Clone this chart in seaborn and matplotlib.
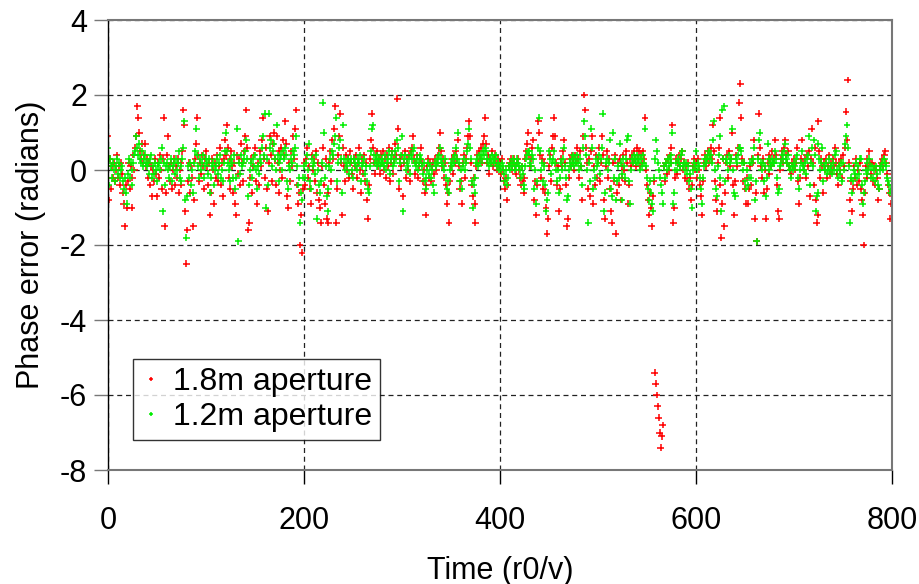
import numpy as np
import pandas as pd
import matplotlib
matplotlib.use("Agg")
import matplotlib.pyplot as plt
import seaborn as sns

# phase error per time step (r0/v)
phase_18m = [
    0.9, -0.8, 0.3, -0.5, 0.1, -0.2, 0.2, -0.3, 0.0, 0.4, -0.2, 0.1, -0.4, 0.2, -0.1, -0.6, -0.9, -1.5, -0.4, -1.0,
    -0.3, 0.2, -0.5, 0.1, -1.0, -0.2, 0.4, 0.0, 0.6, 0.9, 1.7, 1.4, 1.0, 0.5, 0.3, 0.7, 0.2, 0.4, 0.7, 0.1,
    0.3, -0.2, 0.2, -0.4, 0.1, -0.7, 0.0, -0.3, 0.3, -0.1, -0.7, 0.2, -0.2, 0.4, 0.0, -0.5, 0.3, 1.4, -1.5, -0.6,
    0.4, 0.9, 0.1, -0.3, 0.2, -0.5, 0.0, 0.3, -0.4, 0.1, -0.2, 0.3, -0.6, 0.0, 0.2, -0.4, 0.5, 1.6, 1.2, -1.1,
    -2.5, -1.6, -0.3, 0.2, -0.6, 0.1, -0.2, -1.5, -0.8, 0.3, 0.7, 1.4, 0.4, -0.3, 0.2, -0.1, 0.4, 0.1, -0.5, 0.3,
    0.5, 0.1, -0.4, 0.2, -1.2, -0.6, 0.3, 0.0, -0.9, 0.2, -0.2, 0.4, -0.3, 0.1, 0.6, -0.4, 0.2, -0.7, 0.3, 0.8,
    0.4, 1.2, 0.6, -0.2, 0.3, -0.5, 0.5, 0.1, -0.6, 0.2, -0.9, -1.2, 0.4, -0.1, 0.3, -0.4, 0.7, 0.2, -0.3, 0.5,
    0.9, 1.6, 0.6, -1.6, -1.4, -0.2, 0.3, -0.6, 0.1, 0.4, 0.6, -0.3, -0.9, 0.2, -0.4, 0.5, 0.1, 0.8, 1.4, 0.3,
    -0.2, 0.6, -0.5, -1.1, 0.2, 0.9, 0.4, -0.3, 0.7, 1.0, 0.3, -0.4, 0.9, 0.2, -0.6, 0.5, 0.0, 0.6, -0.2, 0.8,
    0.4, 1.3, 0.7, -0.7, -1.0, 0.2, -0.3, 0.5, 0.1, 0.9, 0.3, 1.1, 1.6, -0.4, -0.9, -0.6, -2.0, -1.2, -2.2, -0.5,
    0.2, -0.4, 0.3, 0.6, -0.2, 0.1, -0.5, -0.9, 0.4, 0.0, 0.3, -0.3, 0.5, -0.6, 0.2, -0.8, -1.0, -1.4, 0.1, 0.6,
    -0.4, -0.9, 0.3, -1.3, -0.6, -1.4, 0.2, 0.5, -0.3, 0.8, 0.3, 1.1, 1.7, -1.4, -0.5, 0.4, 0.9, 1.5, 0.2, -1.2,
    0.6, 0.1, -0.3, 0.4, 0.0, 0.3, -0.2, 0.5, 0.2, -0.1, -0.5, 0.3, 0.1, 0.4, -0.2, 0.2, 0.6, 0.0, -0.6, 0.3,
    -0.1, 0.4, -0.3, 0.2, -0.8, -1.3, -0.4, 0.3, 0.8, 1.5, 0.6, 0.2, -0.1, 0.4, 0.2, 0.5, 0.1, 0.3, -0.1, 0.4,
    0.2, 0.5, 0.0, 0.3, -0.2, 0.4, 0.1, 0.6, -0.3, 0.2, 0.5, -0.1, 0.3, 0.7, 0.4, 1.9, 1.1, -0.5, 0.3, 0.1,
    0.4, -0.7, 0.2, 0.5, -0.2, 0.3, 0.0, 0.4, -0.3, 0.5, 0.6, 0.9, 0.3, -0.1, 0.2, 0.4, -0.2, 0.1, 0.3, 0.6,
    0.2, -0.3, 0.0, -0.6, -1.2, -0.4, 0.1, 0.3, -0.2, 0.2, -0.3, 0.1, 0.2, -0.1, 0.3, 0.0, 0.2, 0.4, 0.6, 1.0,
    0.5, 0.1, 0.3, -0.2, 0.2, -0.4, -0.9, -0.6, -1.4, -0.3, 0.1, 0.3, -0.1, 0.4, 0.2, 0.5, 0.3, 0.8, 0.1, -0.5,
    -0.3, -0.9, 0.2, 0.4, -0.2, 0.3, 0.6, 0.9, 1.3, 0.9, 0.2, -0.4, -0.7, -0.2, -0.9, -1.4, 0.1, 0.4, 0.2, 0.5,
    0.3, 0.6, 0.2, 0.7, 0.9, 1.4, 0.7, 0.2, 0.4, -0.1, 0.3, 0.2, 0.5, 0.1, 0.3, 0.4, 0.2, 0.0, 0.3, 0.1,
    0.2, -0.1, 0.3, 0.0, -0.3, -0.5, -0.2, -0.8, -0.4, 0.1, 0.2, 0.3, 0.0, 0.2, 0.3, 0.1, -0.1, 0.2, 0.3, 0.0,
    -0.2, -0.4, 0.1, -0.3, -0.6, -0.2, 0.3, 0.5, 0.7, 1.0, 0.4, 0.1, 0.3, 0.6, 0.8, -0.8, -0.3, -1.2, -0.4, 1.3,
    1.0, 0.4, -0.2, 0.3, -0.5, 0.2, -0.6, -1.0, -1.7, -1.3, 0.1, 0.4, -0.3, 0.6, 0.9, 1.4, 0.9, 0.2, -0.4, 0.1,
    -1.1, -0.5, 0.3, 0.1, 0.5, 0.8, 0.2, -0.4, -1.5, -1.3, -0.2, 0.3, 0.1, 0.4, 0.2, 0.3, 0.0, 0.4, 0.2, 0.6,
    0.3, -0.2, 0.5, 0.1, -0.8, 0.9, 2.0, 1.6, 0.6, 0.2, -0.5, 0.3, -0.7, 0.5, 0.9, -0.9, 0.1, -0.4, 0.4, -0.2,
    0.3, 0.6, -0.3, 0.2, 0.9, 0.4, -0.8, -1.3, 0.1, 0.5, -0.2, 0.3, -0.5, -1.1, -1.4, 0.2, -0.3, 0.4, -1.7, -0.6,
    0.2, -0.4, 0.3, -0.8, 0.1, -0.2, 0.4, 0.0, -0.3, 0.5, 0.2, -0.9, -0.4, 0.3, 0.1, 0.4, 0.2, 0.5, 0.3, 0.1,
    0.6, 0.3, 0.5, 0.1, 0.4, 0.2, 0.5, 0.3, 1.4, 0.0, -0.4, -0.8, -1.2, -0.6, -1.0, -1.5, -0.7, -0.3, -5.4, -5.7,
    -6.0, -6.3, -6.6, -7.0, -7.4, -7.1, -6.8, 0.1, -0.3, 0.2, -0.1, 0.3, 0.0, 0.4, 0.2, 0.6, 1.2, -1.4, -1.0, -0.2,
    0.3, -0.1, 0.2, 0.4, 0.1, 0.3, 0.5, 0.0, 0.2, -0.2, 0.1, -0.3, 0.2, -0.5, -0.2, -0.8, -0.4, 0.1, 0.3, 0.0,
    0.2, -0.2, 0.3, 0.0, -0.4, -0.7, -1.2, -0.3, 0.2, 0.4, 0.1, 0.3, 0.5, 0.2, 0.4, 0.6, 0.3, 1.2, 0.5, -0.3,
    -0.8, -1.1, 0.2, 0.6, 1.4, -0.4, -1.8, -0.9, 0.3, -1.5, -0.6, 0.2, 0.4, -0.2, 0.5, 0.1, 0.3, 1.0, -0.4, -1.2,
    -0.3, 0.4, 0.1, 0.6, 1.8, 2.3, 1.4, 0.3, -0.3, 0.2, -0.5, -0.9, -0.2, -0.9, -0.5, 0.1, -0.4, 0.3, 0.2, 0.8,
    -1.3, -0.6, -1.9, 0.4, 1.5, 0.6, 0.1, -0.2, 0.3, -0.6, 0.0, -1.3, -0.5, 0.2, 0.4, -0.1, 0.3, 0.1, 0.5, 0.2,
    0.3, 0.8, 0.4, -0.4, -1.1, -1.3, 0.0, 0.3, 0.5, 0.2, 0.6, 0.8, 0.4, 0.2, 0.5, 0.1, 0.0, -0.1, 0.2, 0.1,
    0.3, 0.0, 0.2, 0.6, -0.3, -0.9, -0.2, 0.3, 0.8, 0.2, 0.0, 0.3, -0.2, 0.4, 0.1, 0.5, -0.7, 0.3, 1.1, 0.2,
    -0.4, 0.6, -0.8, -1.4, -1.2, 1.3, 0.5, -0.2, 0.3, 0.1, -0.6, 0.2, 0.0, 0.3, -0.2, 0.1, 0.4, -0.1, 0.2, 0.0,
    0.3, 0.1, 0.6, 0.2, -0.1, -0.4, 0.2, 0.0, 0.3, -0.2, 0.4, 0.1, 0.6, 1.55, 0.8, 2.4, 0.2, -0.8, -0.3, -1.1,
    -0.5, 0.1, -0.2, 0.3, -0.4, 0.0, -0.3, 0.2, -0.5, -0.8, -1.2, -2.0, -0.6, 0.1, -0.2, 0.3, 0.1, 0.5, 0.2, -0.1,
    0.2, -0.3, 0.1, -0.4, 0.0, -0.2, -0.8, -0.5, 0.1, 0.2, 0.3, 0.1, 0.4, 0.5, 0.2, -0.1, -0.4, -0.6, -1.3, -0.9,
    -0.7,
]

phase_12m = [
    0.6, -0.4, 0.3, 0.1, -0.2, 0.2, 0.0, -0.3, 0.1, 0.3, -0.1, 0.2, -0.2, 0.0, 0.1, -0.3, -0.5, -0.2, -0.6, -0.9,
    -0.1, 0.3, -0.2, 0.2, -0.4, 0.0, 0.2, 0.4, 0.5, 0.9, 0.6, 0.4, 0.7, 0.3, 0.2, 0.5, 0.1, 0.3, 0.4, 0.2,
    0.1, 0.2, -0.1, 0.3, 0.4, -0.2, 0.1, -0.1, 0.2, 0.0, -0.3, 0.1, 0.2, 0.0, 0.3, 0.6, -1.1, 0.2, -0.4, 0.1,
    0.2, 0.0, -0.2, 0.1, 0.3, -0.3, 0.1, 0.2, -0.1, 0.3, 0.0, 0.2, 0.5, -0.2, 0.1, -0.3, 0.3, 0.6, 1.3, -0.8,
    -1.8, -0.7, 0.1, -0.2, 0.2, -0.4, 0.0, -0.6, 0.2, 0.5, 1.1, 0.4, 0.1, -0.2, 0.3, 0.0, 0.2, 0.4, -0.2, 0.1,
    0.3, 0.2, -0.1, 0.3, -0.6, -0.2, 0.1, 0.2, -0.4, 0.0, 0.1, 0.3, -0.1, 0.2, 0.4, -0.2, 0.0, -0.3, 0.2, 0.5,
    1.0, 0.5, 0.2, 0.0, 0.1, -0.3, 0.3, 0.2, -0.2, 0.4, -0.5, -0.2, 1.1, -1.9, 0.2, -0.1, 0.4, 0.1, 0.2, 0.3,
    0.5, 0.8, 0.3, -0.7, -0.4, 0.0, 0.2, -0.2, 0.3, 0.1, 0.4, 0.0, -0.5, 0.1, -0.1, 0.3, 0.2, 0.6, 0.9, 0.4,
    1.5, -1.0, 0.3, -0.4, 1.5, 0.6, 0.8, 0.1, 0.5, 0.7, 0.3, 0.0, 1.2, 0.4, -0.3, 0.2, 0.3, 0.4, 0.0, 0.5,
    0.3, 0.6, 0.4, -0.3, -0.5, 0.1, 0.0, 0.3, 0.2, 0.5, 0.4, 0.6, 0.9, 0.1, -0.4, -0.2, -1.4, -0.6, -0.8, -0.2,
    0.1, -0.2, 0.2, 0.4, 0.0, 0.7, -0.3, -0.5, 0.3, 0.1, 0.2, -0.1, 0.4, -1.3, 0.0, -0.4, -0.6, -0.3, 0.2, 1.8,
    1.0, -0.2, 0.1, -0.7, -1.1, -0.5, 0.1, 0.3, 0.0, 0.5, 0.4, 0.7, 0.9, 1.4, -0.3, 0.2, 0.6, 0.8, 0.3, -0.6,
    1.2, 0.3, 0.0, 0.2, 0.1, 0.3, -0.1, 0.2, 0.3, 0.0, -0.2, 0.3, 0.2, 0.1, 0.0, 0.3, 0.2, 0.4, -0.3, 0.1,
    0.2, 0.3, -0.1, 0.1, -0.3, -0.5, -0.6, 0.1, 0.5, 1.1, 1.2, 0.4, 0.2, 0.3, 0.1, 0.4, 0.2, 0.3, 0.1, 0.2,
    0.3, 0.2, 0.1, 0.4, 0.0, 0.2, 0.3, 0.5, -0.1, 0.3, 0.4, 0.1, 0.2, 0.5, 0.3, 0.8, 0.6, -0.3, 0.2, 0.4,
    0.9, -1.1, 0.3, 0.4, 0.0, 0.2, 0.1, 0.3, -0.1, 0.4, 0.3, 0.5, 0.6, 0.2, 0.1, 0.3, 0.0, 0.2, 0.4, 0.3,
    0.1, -0.1, 0.2, -0.3, -0.5, -0.2, 0.0, 0.2, -0.1, 0.1, -0.2, 0.0, -0.4, -0.6, 0.2, 0.1, 0.3, 0.2, 0.4, 0.6,
    0.3, 0.2, 0.1, 0.0, 0.3, -0.2, -0.5, -0.3, -0.6, 0.0, 0.2, 0.1, 0.3, 0.2, 0.4, 0.6, 0.3, 1.0, 0.2, -0.3,
    0.0, -0.5, 0.1, 0.3, 0.0, 0.2, 0.5, 0.7, 1.1, 0.6, 0.3, -0.3, -1.0, -0.4, -0.6, -0.2, 0.2, 0.3, 0.1, 0.4,
    0.2, 0.4, 0.3, 0.5, 0.4, 0.6, 0.5, 0.3, 0.2, 0.1, 0.3, 0.2, 0.4, 0.3, 0.2, 0.3, 0.4, 0.1, 0.2, 0.0,
    0.1, 0.0, 0.2, 0.1, -0.1, -0.3, 0.0, -0.4, -0.2, 0.1, 0.0, 0.2, 0.1, 0.3, 0.2, 0.0, 0.1, 0.3, 0.2, 0.1,
    0.0, -0.2, 0.1, -0.1, -0.4, -0.5, 0.1, 0.3, 0.4, 0.5, 0.5, 0.2, 0.1, 0.4, 0.3, -0.5, 0.0, -0.9, -0.3, 0.6,
    1.4, 0.5, 0.0, 0.2, -0.3, 0.1, -0.4, -1.1, -0.8, -0.6, 0.5, 0.3, -0.1, 0.2, 0.3, 0.5, 0.2, 0.0, -0.3, 0.0,
    -0.6, -0.2, 0.2, 0.0, 0.3, 0.6, 0.1, -0.2, -0.8, -0.7, 0.0, 0.2, 0.1, 0.3, 0.2, 0.4, 0.1, 0.3, 0.2, 0.4,
    0.2, 0.0, 0.3, 0.1, -0.4, 0.6, 1.3, 0.9, 0.4, 0.0, -1.4, 0.2, -0.3, 1.1, 0.6, -0.5, 0.0, -0.2, 0.3, 0.1,
    0.2, 0.4, -0.1, 0.3, 0.6, 1.5, -1.1, -0.6, 0.2, 0.3, 0.0, 0.2, 0.8, -0.5, -0.7, 1.0, -0.2, 0.3, -0.8, -0.3,
    0.1, -0.2, 0.7, 0.2, -0.8, -0.1, 0.3, 0.1, -0.2, 0.3, 0.8, 0.9, -0.3, -0.9, 0.0, 0.3, 0.2, 0.4, 0.3, 0.2,
    0.4, 0.2, 0.3, 0.0, 0.3, 0.1, 0.4, 0.2, 1.1, 0.1, -0.2, -0.5, -0.8, -0.3, -0.6, -0.9, -1.1, -0.2, 0.3, 0.8,
    0.5, 0.2, 0.0, -0.2, -0.4, -0.6, -0.9, 0.1, -0.2, 0.2, 0.0, 0.3, 0.1, 0.3, 0.2, 0.4, 1.0, -0.9, -0.6, 0.0,
    0.2, 0.0, 0.3, 0.2, 0.1, 0.4, 0.5, 0.1, 0.2, 0.0, 0.2, -0.1, 0.1, -0.3, -0.1, -0.5, -1.0, 0.0, 0.2, 0.1,
    0.5, 0.0, 0.2, 0.1, -0.2, -0.5, -0.9, -0.2, 0.1, 0.3, 0.2, 0.3, 0.4, 0.5, 0.3, 0.4, 0.2, 0.8, 1.3, 0.0,
    -0.5, -0.7, 0.1, 0.4, 0.9, -0.2, -1.1, 1.6, 0.3, 1.7, -0.3, 0.3, 0.2, 0.0, 0.4, 0.2, 0.3, 1.1, 0.0, -0.6,
    -0.7, 0.3, 0.2, 0.4, 0.6, 0.6, 0.5, 0.2, 0.0, 0.2, -0.3, -0.5, 0.0, -0.4, -0.2, 0.2, -0.2, 0.2, 0.3, 0.6,
    -0.8, -0.3, -1.9, 0.3, 0.8, 1.0, 0.2, 0.0, 0.2, -0.3, 0.1, -0.7, -0.2, 0.7, 0.3, 0.0, 0.2, 0.1, 0.3, 0.2,
    0.2, 0.5, 0.3, -0.2, -0.6, -0.5, 0.1, 0.2, 0.4, 0.3, 0.5, 0.7, 0.3, 0.2, 0.4, 0.1, 0.0, -0.2, 0.1, 0.0,
    0.2, 0.1, 0.3, 0.4, -0.2, -0.5, 0.0, 0.2, 0.5, 0.1, 0.0, 0.2, -0.1, 0.3, 0.4, 0.9, -0.4, 0.2, 0.6, 0.1,
    0.8, 0.4, -1.1, -0.7, -0.6, 0.7, 0.3, 0.0, 0.2, 0.6, -0.3, 0.1, 0.0, 0.2, -0.1, 0.0, 0.3, 0.0, 0.1, -0.1,
    0.2, 0.0, 0.4, 0.5, 0.0, -0.2, 0.1, -0.1, 0.2, -0.3, 0.2, 0.0, 0.7, 0.9, 1.2, 0.6, 0.1, -1.4, -0.2, -0.6,
    -0.3, 0.0, -0.1, 0.2, -0.2, 0.1, -0.1, 0.3, 0.3, -0.4, -0.9, -0.6, -0.3, 0.0, -0.1, 0.2, 0.0, 0.3, 0.1, -0.2,
    0.1, -0.2, 0.0, -0.3, 0.1, -0.1, -0.4, -0.5, 0.0, 0.1, 0.2, 0.0, 0.3, 0.2, 0.1, -0.2, -0.3, -0.4, -0.6, -0.5,
    -0.4,
]

series_labels = ["1.8m aperture", "1.2m aperture"]
x_ticks = [0, 200, 400, 600, 800]
y_ticks = [4, 2, 0, -2, -4, -6, -8]

df = pd.concat([
    pd.DataFrame({"time": np.arange(len(phase_18m)), "phase": phase_18m, "aperture": series_labels[0]}),
    pd.DataFrame({"time": np.arange(len(phase_12m)), "phase": phase_12m, "aperture": series_labels[1]}),
])

sns.set_style("ticks")
plt.rcParams["font.family"] = ["Liberation Sans", "DejaVu Sans"]
plt.rcParams["axes.unicode_minus"] = False
plt.rcParams["text.color"] = "black"
plt.rcParams["axes.labelcolor"] = "black"
plt.rcParams["xtick.color"] = "black"
plt.rcParams["ytick.color"] = "black"

fig = plt.figure(figsize=(9.2, 5.84), dpi=100)
ax = fig.add_axes([108 / 920, 1 - 470 / 584, 784 / 920, 450 / 584])

sns.scatterplot(data=df, x="time", y="phase", hue="aperture",
                palette={series_labels[0]: "#ff0000", series_labels[1]: "#00ee00"},
                marker="+", s=24, linewidth=1.1, ax=ax)

ax.set_xlim(0, 800)
ax.set_ylim(-8, 4)
ax.set_xticks(x_ticks)
ax.set_yticks(y_ticks)
ax.set_axisbelow(True)
ax.grid(True, linestyle=(0, (4, 3)), color="#222222", linewidth=0.9)

for side in ["top", "right", "bottom"]:
    ax.spines[side].set_color("#777777")
    ax.spines[side].set_linewidth(1.5)
ax.spines["left"].set_color("black")
ax.spines["left"].set_linewidth(1.0)
ax.tick_params(axis="x", length=10, width=1, color="black", labelcolor="black", labelsize=22, pad=16)
ax.tick_params(axis="y", length=10, width=1, color="#777777", labelcolor="black", labelsize=22, pad=5)

ax.set_xlabel("Time (r0/v)", fontsize=22, labelpad=14, color="black")
ax.set_ylabel("Phase error (radians)", fontsize=22, labelpad=10, color="black")

leg = ax.legend(loc="lower left", bbox_to_anchor=(0.032, 0.067), borderaxespad=0,
                fontsize=23, frameon=True, fancybox=False, edgecolor="black",
                markerscale=0.5, handlelength=0.6, handletextpad=0.4,
                borderpad=0.25, labelspacing=0.15, title=None)
leg.get_frame().set_linewidth(1.0)

fig.savefig("out.png", dpi=100)
